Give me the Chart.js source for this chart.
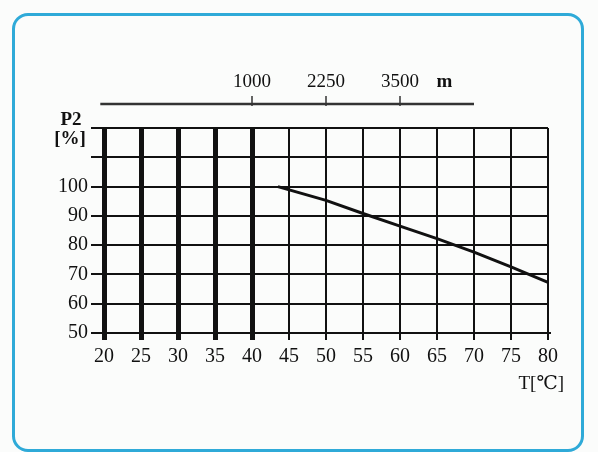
<!DOCTYPE html>
<html lang="en">
<head>
    <meta charset="UTF-8">
    <title>P2 derating</title>
    <script src="https://cdn.jsdelivr.net/npm/chart.js"></script>
    <style>
        body { margin: 0; background: #fbfcfb; }
        #frame {
            position: absolute; left: 12px; top: 13px; width: 572px; height: 439px;
            border: 3px solid #2faad8; border-radius: 16px; box-sizing: border-box;
        }
        #wrap { position: absolute; left: 0; top: 0; width: 598px; height: 452px; }
    </style>
</head>
<body>
    <div id="frame"></div>
    <div id="wrap"><canvas id="chart" width="598" height="452"></canvas></div>

    <script>
        // derating curve: temperature -> allowed output
        const temps = [43.5, 50, 55, 60, 65, 70, 75, 80];
        const power = [100, 95.3, 90.8, 86.5, 82.2, 77.6, 72.6, 67.3];

        // altitude scale drawn above the plot
        const altLabels = ['1000', '2250', '3500'];
        const altAtTemp = [40, 50, 60];
        const altRange = [19.5, 70];

        const font = '"Liberation Serif", "DejaVu Serif", serif';
        const ink = '#111';

        // extra texts and altitude scale
        const extras = {
            id: 'extras',
            afterDraw(chart) {
                const c = chart.ctx;
                const x = chart.scales.x;
                c.save();
                c.strokeStyle = '#333';
                c.lineWidth = 2.5;
                const ly = 104;
                c.beginPath();
                c.moveTo(x.getPixelForValue(altRange[0]), ly);
                c.lineTo(x.getPixelForValue(altRange[1]), ly);
                c.stroke();
                c.lineWidth = 1.5;
                c.fillStyle = ink;
                c.font = '19px ' + font;
                c.textAlign = 'center';
                c.textBaseline = 'alphabetic';
                altAtTemp.forEach((t, i) => {
                    const px = x.getPixelForValue(t);
                    c.beginPath();
                    c.moveTo(px, ly - 8);
                    c.lineTo(px, ly + 2);
                    c.stroke();
                    c.fillText(altLabels[i], px, 87);
                });
                c.font = 'bold 19px ' + font;
                c.fillText('m', x.getPixelForValue(66), 87);

                c.fillText('P2', 71, 125);
                c.fillText('[%]', 70, 144);

                c.font = '19px ' + font;
                c.textAlign = 'right';
                c.fillText('T[℃]', 564, 389);
                c.restore();
            }
        };

        const ctx = document.getElementById('chart').getContext('2d');
        new Chart(ctx, {
            type: 'line',
            data: {
                datasets: [{
                    data: temps.map((t, i) => ({ x: t, y: power[i] })),
                    borderColor: ink,
                    borderWidth: 3,
                    pointRadius: 0,
                    fill: false,
                    tension: 0
                }]
            },
            options: {
                responsive: false,
                animation: false,
                layout: { padding: { top: 128, right: 50, left: 0, bottom: 0 } },
                plugins: { legend: { display: false }, tooltip: { enabled: false } },
                scales: {
                    x: {
                        type: 'linear',
                        min: 20, max: 80,
                        afterFit: s => { s.height = 119; },
                        border: { display: true, color: ink, width: 2 },
                        grid: {
                            color: ink,
                            lineWidth: c => (c.tick && c.tick.value <= 40 ? 5 : 2),
                            tickLength: 7
                        },
                        ticks: {
                            stepSize: 5,
                            color: ink,
                            padding: 5,
                            maxRotation: 0,
                            font: { family: font, size: 20 }
                        }
                    },
                    y: {
                        min: 50, max: 120,
                        afterFit: s => { s.width = 104; },
                        border: { display: true, color: ink, width: 2 },
                        grid: { color: ink, lineWidth: 2, tickLength: 13 },
                        ticks: {
                            stepSize: 10,
                            color: ink,
                            padding: 3,
                            font: { family: font, size: 20 },
                            callback: v => (v <= 100 ? v : '')
                        }
                    }
                }
            },
            plugins: [extras]
        });
    </script>
</body>
</html>
